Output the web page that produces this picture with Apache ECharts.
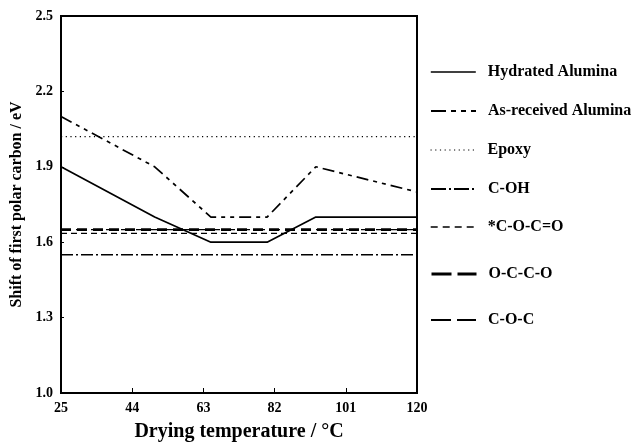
<!DOCTYPE html>
<html>
<head>
<meta charset="utf-8">
<script src="https://cdn.jsdelivr.net/npm/echarts@6/dist/echarts.min.js"></script>
<style>
  html, body { margin: 0; padding: 0; background: #fff; }
  #chart { width: 632px; height: 442px; }
</style>
</head>
<body>
<div id="chart"></div>
<script>
// Drying temperatures (°C) at which the alumina samples were measured
const temps = [25, 50, 65, 80, 93, 120];
const hydratedAlumina = [1.9, 1.7, 1.6, 1.6, 1.7, 1.7];
const asReceivedAlumina = [2.1, 1.9, 1.7, 1.7, 1.9, 1.8];

// Reference shifts for the epoxy and its functional groups (constant across temperature)
const refTemps = [25, 120];
const epoxy = [2.02, 2.02];
const cOH = [1.55, 1.55];
const cocEster = [1.635, 1.635];
const occo = [1.65, 1.65];
const coc = [1.65, 1.65];

// Axis ticks
const xTicks = [25, 44, 63, 82, 101, 120];
const yTicks = [1.0, 1.3, 1.6, 1.9, 2.2, 2.5];

const serif = '"Liberation Serif", "DejaVu Serif", serif';

function pairs(xs, ys) { return xs.map((x, i) => [x, ys[i]]); }

const seriesDefs = [
  { name: 'Hydrated Alumina', x: temps, y: hydratedAlumina, width: 1.7, type: 'solid',
    legendType: 'solid', legendWidth: 1.6, top: 72 },
  { name: 'As-received Alumina', x: temps, y: asReceivedAlumina, width: 1.7, type: [12, 5, 4, 5, 4, 5],
    legendType: [15, 5, 5, 5, 5, 5], legendWidth: 2, top: 111 },
  { name: 'Epoxy', x: refTemps, y: epoxy, width: 1.2, type: [1.2, 3.5],
    legendType: [1.2, 3.5], legendWidth: 1, top: 150 },
  { name: 'C-OH', x: refTemps, y: cOH, width: 1.5, type: [12, 3, 2, 3],
    legendType: [15, 3, 2, 3], legendWidth: 2, top: 189 },
  { name: '*C-O-C=O', x: refTemps, y: cocEster, width: 1.4, type: [6, 4],
    legendType: [7, 5], legendWidth: 1.4, top: 227 },
  { name: 'O-C-C-O', x: refTemps, y: occo, width: 2.6, type: [10, 6],
    legendType: [20, 6], legendWidth: 3, top: 274 },
  { name: 'C-O-C', x: refTemps, y: coc, width: 1.4, type: [9, 6],
    legendType: [20, 6], legendWidth: 2, top: 320 }
];

const chart = echarts.init(document.getElementById('chart'), null, { renderer: 'canvas' });

chart.setOption({
  backgroundColor: '#fff',
  animation: false,
  grid: {
    left: 61, right: 215, top: 16, bottom: 49,
    containLabel: false,
    outerBoundsMode: 'none',
    show: true, borderColor: '#000', borderWidth: 2, backgroundColor: 'transparent'
  },
  xAxis: {
    type: 'value',
    min: xTicks[0], max: xTicks[xTicks.length - 1],
    interval: xTicks[1] - xTicks[0],
    name: 'Drying temperature / °C',
    nameLocation: 'middle',
    nameGap: 29,
    nameTextStyle: { fontFamily: serif, fontWeight: 'bold', fontSize: 20, color: '#000' },
    axisLine: { lineStyle: { color: '#000', width: 2 } },
    axisTick: { inside: true, length: 5, lineStyle: { color: '#000', width: 1 } },
    axisLabel: { margin: 8, fontFamily: serif, fontWeight: 'bold', fontSize: 14, color: '#000' },
    splitLine: { show: false }
  },
  yAxis: {
    type: 'value',
    min: yTicks[0], max: yTicks[yTicks.length - 1],
    interval: 0.3,
    name: 'Shift of first polar carbon / eV',
    nameLocation: 'middle',
    nameGap: 36,
    nameTextStyle: { fontFamily: serif, fontWeight: 'bold', fontSize: 16, color: '#000' },
    axisLine: { lineStyle: { color: '#000', width: 2 } },
    axisTick: { inside: true, length: 3, lineStyle: { color: '#000', width: 1 } },
    axisLabel: {
      margin: 8, fontFamily: serif, fontWeight: 'bold', fontSize: 14, color: '#000',
      formatter: v => v.toFixed(1)
    },
    splitLine: { show: false }
  },
  legend: seriesDefs.map(d => ({
    data: [d.name],
    left: 430,
    top: d.top - 8,
    orient: 'vertical',
    itemWidth: 45,
    itemHeight: 16,
    padding: 0,
    selectedMode: false,
    itemStyle: { opacity: 0, borderWidth: 0 },
    lineStyle: { type: d.legendType, width: d.legendWidth, color: '#000', opacity: 1 },
    textStyle: {
      fontFamily: serif, fontWeight: 'bold', fontSize: 16, color: '#000',
      padding: [0, 0, 0, 7]
    }
  })),
  series: seriesDefs.map(d => ({
    name: d.name,
    type: 'line',
    data: pairs(d.x, d.y),
    symbol: 'none',
    showSymbol: false,
    color: '#000',
    lineStyle: { color: '#000', width: d.width, type: d.type, cap: 'butt' },
    emphasis: { disabled: true }
  }))
});
</script>
</body>
</html>
